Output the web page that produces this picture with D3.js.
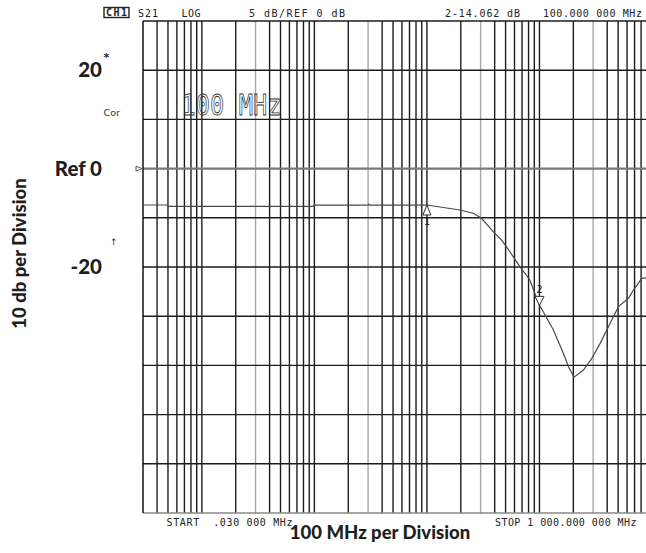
<!DOCTYPE html>
<html>
<head>
<meta charset="utf-8">
<script src="https://d3js.org/d3.v7.min.js"></script>
<style>
  body { margin: 0; background: #fff; }
  svg { display: block; }
</style>
</head>
<body>
<script>
var freqs = [0.03, 0.049, 0.05, 0.97, 1.0, 3.0, 3.05, 3.1, 10, 19.6, 25.8, 30.6, 38.8, 46.1, 54.6, 67, 82.2, 100, 106, 133, 163, 181, 203, 246, 292, 346, 425, 503, 617, 684, 812, 899, 1000]
var gains = [-3.70, -3.70, -3.83, -3.83, -3.72, -3.72, -3.62, -3.72, -3.70, -4.21, -4.54, -5.05, -6.41, -7.26, -8.45, -9.97, -11.32, -13.9, -14.37, -16.4, -18.77, -20.13, -21.2, -20.47, -19.28, -17.76, -15.72, -14.03, -13.18, -12.34, -11.15, -11.09, -11.0]

var markerNames = ["1", "2"]
var markerFreqs = [10, 100]
var markerGains = [-3.70, -13.9]

var yTickValues = [10, 0, -10]
var yTickLabels = ["20", "Ref 0", "-20"]

var width = 646
var height = 553
var plot = { left: 143, right: 652, top: 21, bottom: 513 }

var x = d3.scaleLog().domain([0.03, 1000]).range([plot.left, plot.right])
var y = d3.scaleLinear().domain([-35, 15]).range([plot.bottom, plot.top])

var svg = d3.select("body").append("svg")
  .attr("width", width)
  .attr("height", height)

svg.append("rect").attr("width", width).attr("height", height).attr("fill", "#fff")

var clip = svg.append("clipPath").attr("id", "clip")
clip.append("rect").attr("x", plot.left).attr("y", plot.top - 1)
  .attr("width", plot.right - plot.left).attr("height", plot.bottom - plot.top + 2)

var grid = svg.append("g")

// vertical log grid; the "3" lines of each decade are drawn grey on the screen
grid.selectAll(".vx")
  .data(x.ticks().filter(function(d){ return d > 0.03 }))
  .enter().append("line")
  .attr("x1", function(d){ return x(d) })
  .attr("x2", function(d){ return x(d) })
  .attr("y1", plot.top)
  .attr("y2", plot.bottom)
  .attr("stroke", function(d){
    var lead = Math.round(d / Math.pow(10, Math.floor(Math.log10(d) + 1e-9)))
    return lead === 3 ? "#a8a8a8" : "#1c1c1c"
  })
  .attr("stroke-width", 1.4)

// horizontal divisions, 5 dB each
grid.selectAll(".hy")
  .data(d3.range(-35, 16, 5))
  .enter().append("line")
  .attr("x1", plot.left)
  .attr("x2", width)
  .attr("y1", function(d){ return y(d) })
  .attr("y2", function(d){ return y(d) })
  .attr("stroke", function(d){ return d === 0 ? "#7a7a7a" : (d === -35 ? "#888" : "#1c1c1c") })
  .attr("stroke-width", function(d){ return d === 0 ? 2.2 : 1.4 })

// left edge
grid.append("line")
  .attr("x1", plot.left).attr("x2", plot.left)
  .attr("y1", plot.top).attr("y2", plot.bottom)
  .attr("stroke", "#111").attr("stroke-width", 1.5)

// trace
var line = d3.line()
  .x(function(d){ return x(d[0]) })
  .y(function(d){ return y(d[1]) })

svg.append("path")
  .datum(d3.zip(freqs, gains))
  .attr("clip-path", "url(#clip)")
  .attr("fill", "none")
  .attr("stroke", "#4a4a4a")
  .attr("stroke-width", 1.2)
  .attr("d", line)

// markers
var markers = svg.selectAll(".mk")
  .data(d3.zip(markerNames, markerFreqs, markerGains))
  .enter().append("g")

markers.append("path")
  .attr("fill", "#fff")
  .attr("stroke", "#333")
  .attr("stroke-width", 1)
  .attr("d", function(d){
    var mx = x(d[1]), my = y(d[2])
    if (d[0] === "1") return "M" + mx + "," + my + " L" + (mx - 4) + "," + (my + 10) + " L" + (mx + 4) + "," + (my + 10) + "Z"
    return "M" + mx + "," + my + " L" + (mx - 4.5) + "," + (my - 9) + " L" + (mx + 4.5) + "," + (my - 9) + "Z"
  })

markers.append("text")
  .attr("x", function(d){ return x(d[1]) })
  .attr("y", function(d){ return d[0] === "1" ? y(d[2]) + 20 : y(d[2]) - 12 })
  .attr("text-anchor", "middle")
  .attr("font-family", "DejaVu Sans Mono")
  .attr("font-size", "10px")
  .attr("fill", "#222")
  .text(function(d){ return d[0] })

// reference pointer at 0 dB
svg.append("path")
  .attr("d", "M136," + (y(0) - 2.5) + " L142," + y(0) + " L136," + (y(0) + 2.5) + "Z")
  .attr("fill", "#fff").attr("stroke", "#555").attr("stroke-width", 1)

// instrument header
var mono = "DejaVu Sans Mono"
var header = svg.append("g")
  .attr("font-family", mono)
  .attr("font-size", "10px")
  .attr("fill", "#222")

header.append("rect").attr("x", 104).attr("y", 7.5).attr("width", 25).attr("height", 10)
  .attr("fill", "#fff").attr("stroke", "#222").attr("stroke-width", 1.4)
header.append("text").attr("x", 106).attr("y", 16).attr("textLength", 21).attr("font-weight", "bold").text("CH1")
header.append("text").attr("x", 138).attr("y", 16.5).attr("textLength", 20).text("S21")
header.append("text").attr("x", 181.5).attr("y", 16.5).attr("textLength", 19).text("LOG")
header.append("text").attr("x", 249).attr("y", 16.5).attr("textLength", 96).attr("xml:space", "preserve").text("5 dB/REF 0 dB")
header.append("text").attr("x", 445).attr("y", 16.5).attr("textLength", 75).text("2-14.062 dB")
header.append("text").attr("x", 543).attr("y", 16.5).attr("textLength", 99).text("100.000 000 MHz")

var footer = svg.append("g")
  .attr("font-family", mono)
  .attr("font-size", "10px")
  .attr("fill", "#222")
footer.append("text").attr("x", 166.5).attr("y", 525.5).attr("textLength", 126).attr("xml:space", "preserve").text("START  .030 000 MHz")
footer.append("text").attr("x", 495).attr("y", 525.5).attr("textLength", 141.5).text("STOP 1 000.000 000 MHz")

// big outlined annotation
svg.append("text")
  .attr("x", 181.5).attr("y", 115)
  .attr("font-family", mono)
  .attr("font-size", "29px")
  .attr("textLength", 100)
  .attr("lengthAdjust", "spacingAndGlyphs")
  .attr("fill", "none")
  .attr("stroke", "#333")
  .attr("stroke-width", 0.8)
  .attr("xml:space", "preserve")
  .text("100 MHz")

// small screen annotations
svg.append("text").attr("x", 103.5).attr("y", 116).attr("font-family", "DejaVu Sans")
  .attr("font-size", "9.5px").attr("fill", "#333").text("Cor")
svg.append("text").attr("x", 103.5).attr("y", 61).attr("font-family", "DejaVu Sans")
  .attr("font-size", "11px").attr("font-weight", "bold").attr("fill", "#222").text("*")
svg.append("text").attr("x", 110).attr("y", 245).attr("font-family", "DejaVu Sans")
  .attr("font-size", "9px").attr("fill", "#333").text("\u2191")

// bold overlay labels (10 db per division as annotated)
svg.selectAll(".yl")
  .data(d3.zip(yTickValues, yTickLabels))
  .enter().append("text")
  .attr("x", 102)
  .attr("y", function(d){ return y(d[0]) + 7 })
  .attr("text-anchor", "end")
  .attr("font-family", "Lato")
  .attr("font-weight", "900")
  .attr("font-size", "20.5px")
  .attr("fill", "#1e1e1e")
  .text(function(d){ return d[1] })

svg.append("text")
  .attr("transform", "translate(26,253.5) rotate(-90)")
  .attr("text-anchor", "middle")
  .attr("font-family", "Lato")
  .attr("font-weight", "900")
  .attr("font-size", "18.5px")
  .attr("fill", "#1e1e1e")
  .text("10 db per Division")

svg.append("text")
  .attr("x", 380).attr("y", 538.5)
  .attr("text-anchor", "middle")
  .attr("font-family", "Lato")
  .attr("font-weight", "900")
  .attr("font-size", "18.5px")
  .attr("fill", "#1e1e1e")
  .text("100 MHz per Division")
</script>
</body>
</html>
